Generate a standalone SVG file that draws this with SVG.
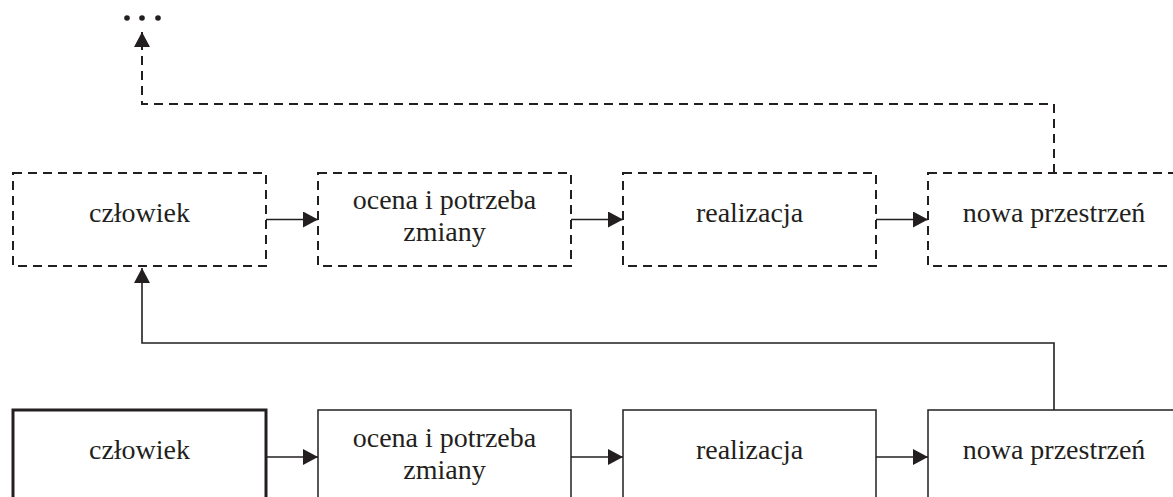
<svg xmlns="http://www.w3.org/2000/svg" width="1173" height="497" viewBox="0 0 1173 497">
<style>
.dash{fill:none;stroke:#231f20;stroke-width:2;stroke-dasharray:9 6}
.box{fill:#fff;stroke:#231f20;stroke-width:1.5}
.thick{fill:#fff;stroke:#231f20;stroke-width:3}
.ln{fill:none;stroke:#231f20;stroke-width:1.6}
.lnd{fill:none;stroke:#231f20;stroke-width:2;stroke-dasharray:9 6}
text{font-family:"Liberation Serif",serif;font-size:28px;fill:#231f20;text-anchor:middle}
</style>
<defs>
<marker id="ah" markerWidth="16" markerHeight="16" viewBox="0 0 16 16" refX="15" refY="8" orient="auto" markerUnits="userSpaceOnUse">
<path d="M0,0 L15,8 L0,16 Z" fill="#231f20"/>
</marker>
</defs>
<rect width="1173" height="497" fill="#fff"/>
<g id="top-czlowiek"><rect class="dash" x="13" y="173" width="253" height="93"/><text x="139.5" y="222">człowiek</text></g>
<g id="top-ocena"><rect class="dash" x="318" y="173" width="253" height="93"/><text x="444.5" y="209">ocena i potrzeba</text><text x="444.5" y="241">zmiany</text></g>
<g id="top-realizacja"><rect class="dash" x="623" y="173" width="253" height="93"/><text x="749.5" y="222">realizacja</text></g>
<g id="top-nowa"><rect class="dash" x="928" y="173" width="253" height="93"/><text x="1054" y="222">nowa przestrzeń</text></g>
<g id="bot-czlowiek"><rect class="thick" x="13" y="410" width="253" height="95"/><text x="139.5" y="459">człowiek</text></g>
<g id="bot-ocena"><rect class="box" x="318" y="410" width="253" height="95"/><text x="444.5" y="447">ocena i potrzeba</text><text x="444.5" y="479">zmiany</text></g>
<g id="bot-realizacja"><rect class="box" x="623" y="410" width="253" height="95"/><text x="749.5" y="459">realizacja</text></g>
<g id="bot-nowa"><rect class="box" x="928" y="410" width="253" height="95"/><text x="1054" y="459">nowa przestrzeń</text></g>
<g id="dots" fill="#231f20"><circle cx="127" cy="18" r="2.8"/><circle cx="142" cy="18" r="2.8"/><circle cx="158" cy="18" r="2.8"/></g>
<g id="connectors">
<line class="ln" x1="266" y1="219.5" x2="318" y2="219.5" marker-end="url(#ah)"/>
<line class="ln" x1="571" y1="219.5" x2="623" y2="219.5" marker-end="url(#ah)"/>
<line class="ln" x1="876" y1="219.5" x2="928" y2="219.5" marker-end="url(#ah)"/>
<line class="ln" x1="266" y1="457" x2="318" y2="457" marker-end="url(#ah)"/>
<line class="ln" x1="571" y1="457" x2="623" y2="457" marker-end="url(#ah)"/>
<line class="ln" x1="876" y1="457" x2="928" y2="457" marker-end="url(#ah)"/>
<polyline class="ln" points="1054,410 1054,343 142,343 142,268" marker-end="url(#ah)"/>
<polyline class="lnd" points="1054,173 1054,104 142,104 142,32" marker-end="url(#ah)"/>
</g>
</svg>
